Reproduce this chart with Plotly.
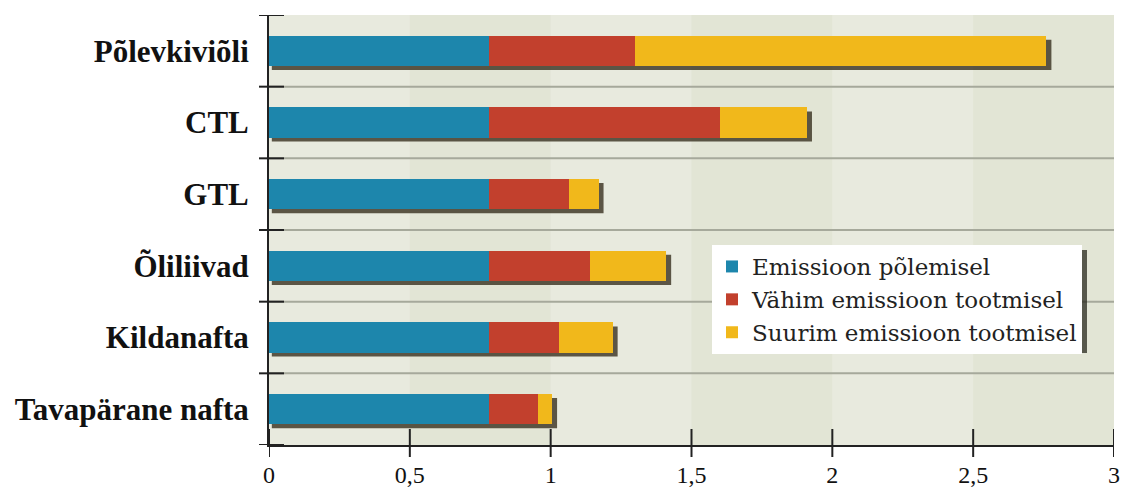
import plotly.graph_objects as go

# Emission per fuel type, stacked: combustion + minimum production + extra up to maximum production
categories = ["Põlevkiviõli", "CTL", "GTL", "Õliliivad", "Kildanafta", "Tavapärane nafta"]
combustion = [0.78, 0.78, 0.78, 0.78, 0.78, 0.78]
production_min = [0.52, 0.82, 0.285, 0.36, 0.25, 0.175]
production_max_extra = [1.46, 0.31, 0.105, 0.27, 0.19, 0.05]
series_names = ["Emissioon põlemisel", "Vähim emissioon tootmisel", "Suurim emissioon tootmisel"]
x_ticks = [0, 0.5, 1, 1.5, 2, 2.5, 3]

colors = ["#1D86AC", "#C2402D", "#F1B81B"]
serif = "Liberation Serif"
bar_w = 0.42
x_max = 3.0

W, H = 1122, 491
M = dict(l=269, r=8, t=15, b=46)
plot_w = W - M["l"] - M["r"]
plot_h = H - M["t"] - M["b"]

pos = list(range(len(categories)))
series = [combustion, production_min, production_max_extra]

fig = go.Figure()
for name, vals, col in zip(series_names, series, colors):
    fig.add_trace(go.Bar(
        y=pos, x=vals, name=name, orientation="h",
        marker=dict(color=col, line=dict(width=0)),
        width=bar_w,
    ))

shapes = []
# alternating vertical background bands
for i in range(len(x_ticks) - 1):
    shapes.append(dict(type="rect", xref="x", yref="paper",
                       x0=x_ticks[i], x1=x_ticks[i + 1], y0=0, y1=1,
                       fillcolor="#E8EADE" if i % 2 == 0 else "#E2E5D5",
                       line=dict(width=0), layer="below"))

boundaries = [p - 0.5 for p in pos] + [pos[-1] + 0.5]

# horizontal separators between categories
for b in boundaries[1:-1]:
    shapes.append(dict(type="line", xref="paper", yref="y", x0=0, x1=1, y0=b, y1=b,
                       line=dict(color="#A6A99B", width=2), layer="below"))

# drop shadow under each stacked bar
dx = 5 / plot_w * x_max
dy = 4 / plot_h * len(categories)
for p, a, b, c in zip(pos, combustion, production_min, production_max_extra):
    total = a + b + c
    shapes.append(dict(type="rect", xref="x", yref="y",
                       x0=0.01, x1=total + dx,
                       y0=p - bar_w / 2 + dy, y1=p + bar_w / 2 + dy,
                       fillcolor="rgba(55,48,30,0.8)", line=dict(width=0),
                       layer="between"))

# tick marks crossing the y axis at category boundaries
for b in boundaries:
    shapes.append(dict(type="line", xref="paper", yref="y",
                       x0=-10 / plot_w, x1=15 / plot_w, y0=b, y1=b,
                       line=dict(color="#222222", width=2), layer="above"))

# tick marks crossing the x axis
for t in x_ticks:
    shapes.append(dict(type="line", xref="x", yref="paper",
                       x0=t, x1=t, y0=-12 / plot_h, y1=16 / plot_h,
                       line=dict(color="#222222", width=2), layer="above"))

# legend box shadow
leg_x, leg_y = (712 - M["l"]) / plot_w, (H - M["b"] - 245) / plot_h
leg_w, leg_h = 370 / plot_w, 103 / plot_h
shapes.append(dict(type="rect", xref="paper", yref="paper",
                   x0=leg_x + 5 / plot_w, x1=leg_x + leg_w + 5 / plot_w,
                   y0=leg_y - leg_h - 5 / plot_h, y1=leg_y - 5 / plot_h,
                   fillcolor="rgba(40,40,30,0.75)", line=dict(width=0), layer="above"))

y_range = [pos[-1] + 0.5, -0.5]

fig.update_layout(
    width=W, height=H,
    margin=M,
    paper_bgcolor="white",
    plot_bgcolor="#E6E8DA",
    barmode="stack",
    separators=", ",
    font=dict(family=serif, color="#111111"),
    shapes=shapes,
    showlegend=True,
    legend=dict(
        x=leg_x, y=leg_y, xanchor="left", yanchor="top",
        bgcolor="white", borderwidth=0, traceorder="normal",
        font=dict(family="DejaVu Serif", size=23, color="#222222"),
        itemwidth=30,
    ),
    xaxis=dict(
        range=[0, x_max], tickvals=x_ticks, ticks="", showgrid=False,
        zeroline=False, showline=True, linecolor="#222222", linewidth=2,
        ticklabelstandoff=7, automargin=False, ticklabeloverflow="allow",
        tickfont=dict(family=serif, size=24, color="#111111"),
    ),
    yaxis=dict(
        range=y_range, tickvals=pos, ticktext=categories, ticks="",
        showgrid=False, zeroline=False, showline=True,
        linecolor="#222222", linewidth=2, ticklabelstandoff=12,
        automargin=False,
        tickfont=dict(family=serif, size=31, color="#111111", weight="bold"),
    ),
)

fig.write_html("out.html")
